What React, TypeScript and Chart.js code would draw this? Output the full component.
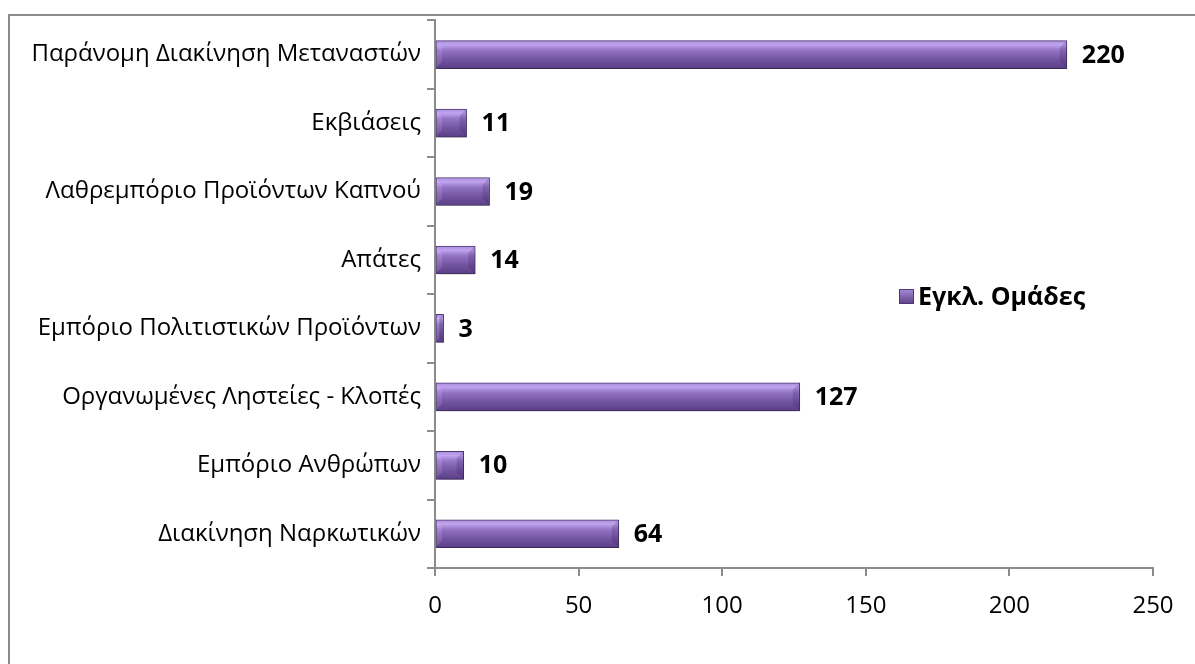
import React, { useEffect, useRef } from "react";
import { Chart, registerables } from "chart.js";

Chart.register(...registerables);

const categories = [
  "Παράνομη Διακίνηση Μεταναστών",
  "Εκβιάσεις",
  "Λαθρεμπόριο Προϊόντων Καπνού",
  "Απάτες",
  "Εμπόριο Πολιτιστικών Προϊόντων",
  "Οργανωμένες Ληστείες - Κλοπές",
  "Εμπόριο Ανθρώπων",
  "Διακίνηση Ναρκωτικών",
];
const seriesName = "Εγκλ. Ομάδες";
const values = [220, 11, 19, 14, 3, 127, 10, 64];
const xTicks = [0, 50, 100, 150, 200, 250];

const FONT = "'Open Sans', 'Noto Sans', sans-serif";
const BAR_H = 28;

export default function App() {
  const ref = useRef<HTMLCanvasElement | null>(null);

  useEffect(() => {
    const canvas = ref.current!;
    const framePlugin = {
      id: "frame",
      beforeDraw(chart: any) {
        const c = chart.ctx;
        c.save();
        c.strokeStyle = "#8c8c8c";
        c.lineWidth = 2;
        c.beginPath();
        c.moveTo(9, 664);
        c.lineTo(9, 15);
        c.lineTo(1195, 15);
        c.stroke();
        c.restore();
      },
    };
    const shadowPlugin = {
      id: "barShadow",
      beforeDatasetsDraw(chart: any) {
        const c = chart.ctx;
        c.save();
        c.shadowColor = "rgba(0,0,0,0.3)";
        c.shadowBlur = 6;
        c.shadowOffsetX = 2;
        c.shadowOffsetY = 4;
      },
      afterDatasetsDraw(chart: any) {
        const c = chart.ctx;
        c.restore();
        const meta = chart.getDatasetMeta(0);
        meta.data.forEach((el: any, i: number) => {
          const left = chart.scales.x.getPixelForValue(0);
          const right = el.x;
          const top = el.y - BAR_H / 2;
          const bot = el.y + BAR_H / 2;
          const b = Math.min(7, (right - left) / 2);
          c.save();
          c.fillStyle = "rgba(255,255,255,0.12)";
          c.beginPath();
          c.moveTo(left + 1, top + 1);
          c.lineTo(left + b, top + b);
          c.lineTo(left + b, bot - b);
          c.lineTo(left + 1, bot - 1);
          c.closePath();
          c.fill();
          c.fillStyle = "rgba(40,20,70,0.18)";
          c.beginPath();
          c.moveTo(right - 1, top + 1);
          c.lineTo(right - b, top + b);
          c.lineTo(right - b, bot - b);
          c.lineTo(right - 1, bot - 1);
          c.closePath();
          c.fill();
          c.restore();

          c.save();
          c.font = `bold 25px ${FONT}`;
          c.fillStyle = "#000";
          c.textBaseline = "middle";
          c.textAlign = "left";
          c.fillText(String(values[i]), right + 15, el.y + 1);
          c.restore();
        });
        // legend
        c.save();
        const lx = 899, ly = 289, ls = 15;
        const g = c.createLinearGradient(0, ly, 0, ly + ls);
        g.addColorStop(0, "#a68ad6");
        g.addColorStop(1, "#5d4289");
        c.fillStyle = g;
        c.fillRect(lx, ly, ls, ls);
        c.strokeStyle = "#4e3775";
        c.lineWidth = 1;
        c.strokeRect(lx + 0.5, ly + 0.5, ls - 1, ls - 1);
        c.font = `bold 25px ${FONT}`;
        c.fillStyle = "#000";
        c.textBaseline = "middle";
        c.fillText(seriesName, lx + ls + 4, ly + ls / 2 + 1);
        c.restore();
      },
    };

    const chart = new Chart(canvas, {
      type: "bar",
      data: {
        labels: categories,
        datasets: [
          {
            label: seriesName,
            data: values,
            barThickness: BAR_H,
            borderWidth: 1,
            borderColor: "#4e3775",
            borderSkipped: false,
            backgroundColor: (ctx: any) => {
              const chart = ctx.chart;
              const ys = chart.scales && chart.scales.y;
              if (!ys || ctx.dataIndex === undefined) return "#7a5aa8";
              const yc = ys.getPixelForValue(ctx.dataIndex);
              if (!isFinite(yc)) return "#7a5aa8";
              const g = chart.ctx.createLinearGradient(0, yc - BAR_H / 2, 0, yc + BAR_H / 2);
              g.addColorStop(0, "#a98fd8");
              g.addColorStop(0.15, "#c0a3f0");
              g.addColorStop(0.35, "#9273c4");
              g.addColorStop(0.7, "#71529f");
              g.addColorStop(1, "#5a3f86");
              return g;
            },
          },
        ],
      },
      options: {
        indexAxis: "y",
        animation: false,
        responsive: false,
        maintainAspectRatio: false,
        layout: { padding: { top: 15, right: 42, left: 0, bottom: 0 } },
        plugins: {
          legend: { display: false },
          tooltip: { enabled: false },
        },
        scales: {
          x: {
            type: "linear",
            min: 0,
            max: 250,
            afterBuildTicks: (scale: any) => {
              scale.ticks = xTicks.map((v) => ({ value: v }));
            },
            afterFit: (scale: any) => {
              scale.height = 96;
            },
            ticks: {
              color: "#000",
              font: { family: FONT, size: 24 },
              padding: 16,
            },
            grid: {
              display: true,
              drawOnChartArea: false,
              drawTicks: true,
              tickLength: 8,
              color: "#8c8c8c",
              lineWidth: 2,
            },
            border: { display: true, color: "#8c8c8c", width: 2 },
          },
          y: {
            type: "category",
            afterFit: (scale: any) => {
              scale.width = 435;
            },
            ticks: {
              color: "#000",
              font: { family: FONT, size: 24 },
              padding: 6,
            },
            grid: {
              display: true,
              offset: true,
              drawOnChartArea: false,
              drawTicks: true,
              tickLength: 8,
              color: "#8c8c8c",
              lineWidth: 2,
            },
            border: { display: true, color: "#8c8c8c", width: 2 },
          },
        },
      } as any,
      plugins: [framePlugin, shadowPlugin],
    });
    return () => chart.destroy();
  }, []);

  return (
    <div style={{ position: "absolute", left: 0, top: 0, width: 1195, height: 664, background: "#fff" }}>
      <canvas ref={ref} width={1195} height={664} style={{ display: "block" }} />
    </div>
  );
}
